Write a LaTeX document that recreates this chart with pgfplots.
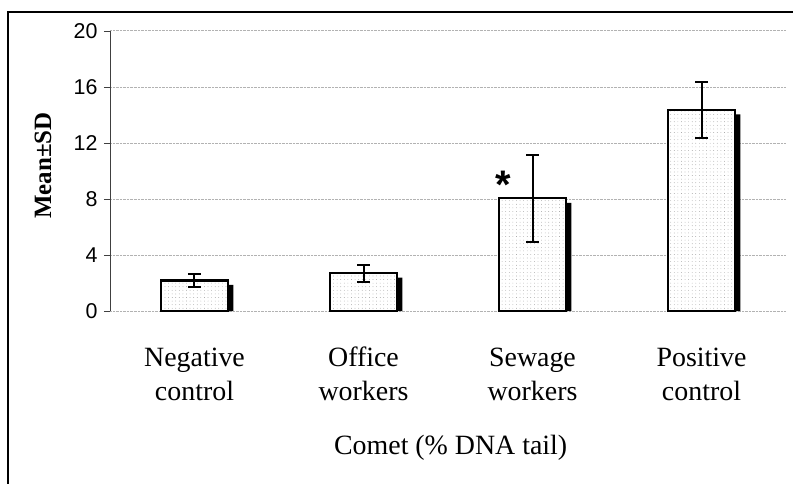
\documentclass[border=0pt]{standalone}
\usepackage{fontspec}
\setmainfont{Liberation Serif}
\newfontfamily\arial{Liberation Sans}
\usepackage{pgfplots}
\pgfplotsset{compat=1.18}
\usepackage{pgfplotstable}
\usetikzlibrary{patterns.meta}
\pgfplotstableread{
x y e
0 2.18 0.46
1 2.70 0.60
2 8.05 3.12
3 14.36 1.98
}\datatab
\pgfplotstableread{
x y
0 1.86
1 2.38
2 7.73
3 14.04
}\shadowtab
\begin{document}
\begin{tikzpicture}
\path[use as bounding box] (-110bp,-173bp) rectangle (683bp,311bp);
\clip (-110bp,-173bp) rectangle (683bp,311bp);
\draw[line width=1.2bp] (-102bp,-190bp) rectangle (700bp,299bp);
\begin{axis}[
  scale only axis,
  width=676bp, height=280bp,
  xmin=-0.5, xmax=3.5,
  ymin=0, ymax=20,
  ytick={0,4,8,12,16,20},
  xtick={0,1,2,3},
  xticklabels={{\strut Negative\\\strut control},{\strut Office\\\strut workers},{\strut Sewage\\\strut workers},{\strut Positive\\\strut control}},
  xticklabel style={align=center, font=\fontsize{28}{34}\selectfont, yshift=-22bp},
  yticklabel={\arial\fontsize{21.5}{24}\selectfont\pgfmathprintnumber{\tick}},
  yticklabel style={xshift=-3bp},
  /pgf/number format/assume math mode=true,
  axis y line*=left,
  axis x line*=bottom,
  x axis line style={draw=none},
  y axis line style={-, black!75, line width=0.9bp},
  xtick style={draw=none},
  ytick style={black!75, line width=0.9bp},
  tick align=outside,
  major tick length=6bp,
  ymajorgrids,
  major grid style={gray!60, densely dotted, line width=1bp},
  clip=false,
]
\addplot[ybar, bar width=0.4, bar shift=5bp, fill=black, draw=none] table[x=x,y=y] {\shadowtab};
\addplot[ybar, bar width=0.4, bar shift=0pt, draw=black, line width=2.3bp, fill=white,
  postaction={pattern={Dots[distance=3.6pt,radius=0.35pt]}, pattern color=gray},
  error bars/.cd, y dir=both, y explicit,
  error bar style={line width=2bp, black},
  error mark options={rotate=90, mark size=6.5bp, line width=2bp, black}]
  table[x=x,y=y,y error=e] {\datatab};
\node[font=\arial\bfseries\fontsize{40}{40}\selectfont, anchor=base, inner sep=0pt] at ([yshift=-19bp]axis cs:1.825,9.36) {*};
\node[rotate=90, font=\bfseries\fontsize{25}{30}\selectfont] at ([xshift=-67bp]rel axis cs:0,0.52) {Mean±SD};
\node[anchor=base, font=\fontsize{28}{30}\selectfont] at ([yshift=-143bp]rel axis cs:0.504,0) {Comet (\% DNA tail)};
\end{axis}
\end{tikzpicture}
\end{document}
